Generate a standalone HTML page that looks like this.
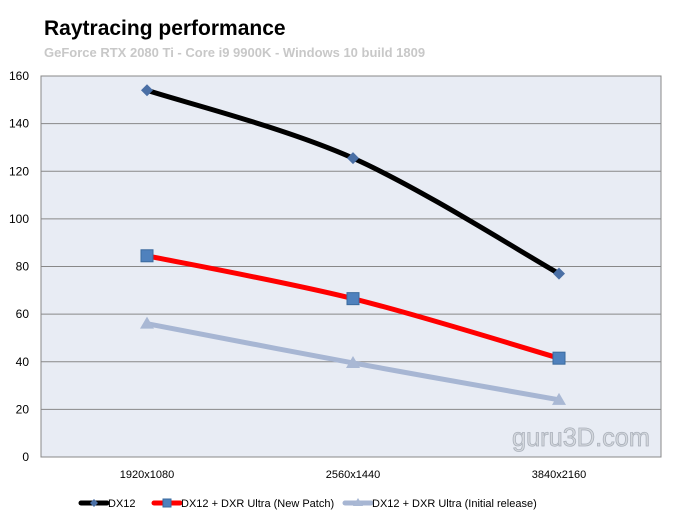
<!DOCTYPE html>
<html><head><meta charset="utf-8"><style>
body{margin:0;background:#fff;width:678px;height:524px;overflow:hidden;font-family:"Liberation Sans",sans-serif}
</style></head><body>
<svg id="c" width="678" height="524" xmlns="http://www.w3.org/2000/svg">
<text x="44" y="35" font-size="21" font-weight="bold" fill="#000">Raytracing  performance</text>
<text x="44" y="57" font-size="13" font-weight="bold" fill="#c8c8c8">GeForce RTX 2080 Ti - Core i9 9900K - Windows 10 build 1809</text>
<g id="plot"></g>
<text x="512" y="446" font-size="26" textLength="138" lengthAdjust="spacingAndGlyphs" fill="#d4d8de" stroke="#aab0ba" stroke-width="0.8">guru3D.com</text>
</svg>
<script>
const categories=["1920x1080","2560x1440","3840x2160"];
const dx12=[154,125.5,77];
const newPatch=[84.5,66.5,41.5];
const initial=[56,39.5,24];
const yTicks=[0,20,40,60,80,100,120,140,160];
const seriesNames=["DX12","DX12 + DXR Ultra (New Patch)","DX12 + DXR Ultra (Initial release)"];
const NS="http://www.w3.org/2000/svg";
const L=41,R=661,T=76,B=457,XL=44,XR=662;
const x=i=>XL+(XR-XL)/categories.length*(i+0.5);
const y=v=>B-(B-T)*v/160;
const g=document.getElementById('plot');
function mk(t,a,p){const e=document.createElementNS(NS,t);for(const k in a)e.setAttribute(k,a[k]);(p||g).appendChild(e);return e;}
const bg=mk('rect',{x:L,y:T,width:R-L,height:B-T,fill:'#e8ecf4',stroke:'#888'});


yTicks.forEach(v=>{
 const ln=mk('line',{x1:L,x2:R,y1:y(v),y2:y(v),stroke:'#888','stroke-width':1});
 
 
 const t=mk('text',{x:29,y:y(v)+4,'font-size':12,'text-anchor':'end',fill:'#000'});
 t.textContent=v;
 
 
});
categories.forEach((c,i)=>{
 const t=mk('text',{x:x(i),y:478,'font-size':11,'text-anchor':'middle',fill:'#000'});
 t.textContent=c;
 
 
});
function path(vals){
 const p=vals.map((v,i)=>[x(i),y(v)]);
 let d=`M${p[0][0]},${p[0][1]}`;
 for(let i=0;i<p.length-1;i++){
  const p0=p[i-1]||p[i],p1=p[i],p2=p[i+1],p3=p[i+2]||p2;
  const c1=[p1[0]+(p2[0]-p0[0])/6,p1[1]+(p2[1]-p0[1])/6];
  const c2=[p2[0]-(p3[0]-p1[0])/6,p2[1]-(p3[1]-p1[1])/6];
  d+=`C${c1[0]},${c1[1]} ${c2[0]},${c2[1]} ${p2[0]},${p2[1]}`;
 }
 return d;
}
function marker(type,cx,cy,col,parent){
 let e;
 if(type==='d')e=mk('polygon',{points:`${cx},${cy-6} ${cx+6},${cy} ${cx},${cy+6} ${cx-6},${cy}`,fill:'#4a6fa5'},parent);
 else if(type==='s')e=mk('rect',{x:cx-6,y:cy-6,width:12,height:12,fill:'#4f81bd',stroke:'#3a6a9e'},parent);
 else e=mk('polygon',{points:`${cx},${cy-7} ${cx+7},${cy+5} ${cx-7},${cy+5}`,fill:'#a9b8d4'},parent);
 return e;
}
const series=[[dx12,'#000','d'],[newPatch,'#ff0000','s'],[initial,'#a7b6d3','t']];
series.forEach(([vals,col,m],si)=>{
 const p=mk('path',{d:path(vals),fill:'none',stroke:col,'stroke-width':5,'stroke-linecap':'round'});
 
 
 vals.forEach((v,i)=>{
  const e=marker(m,x(i),y(v),col);
  
  
 });
});
const lx=[81,154,345];
series.forEach(([vals,col,m],si)=>{
 const lg=mk('g',{});
 
 
 mk('line',{x1:lx[si],x2:lx[si]+26,y1:503,y2:503,stroke:col,'stroke-width':5,'stroke-linecap':'round'},lg);
 const mm=marker(m,lx[si]+13,503,col,lg);
 if(m==='s'){mm.setAttribute('x',lx[si]+9);mm.setAttribute('y',499);mm.setAttribute('width',8);mm.setAttribute('height',8);}
 if(m==='d'){mm.setAttribute('points',`${lx[si]+13},${499} ${lx[si]+17},503 ${lx[si]+13},507 ${lx[si]+9},503`);}
 if(m==='t'){mm.setAttribute('points',`${lx[si]+13},${498} ${lx[si]+18},506 ${lx[si]+8},506`);}
 const t=mk('text',{x:lx[si]+27,y:507,'font-size':11,fill:'#000'},lg);
 t.textContent=seriesNames[si];
});
</script>
</body></html>
